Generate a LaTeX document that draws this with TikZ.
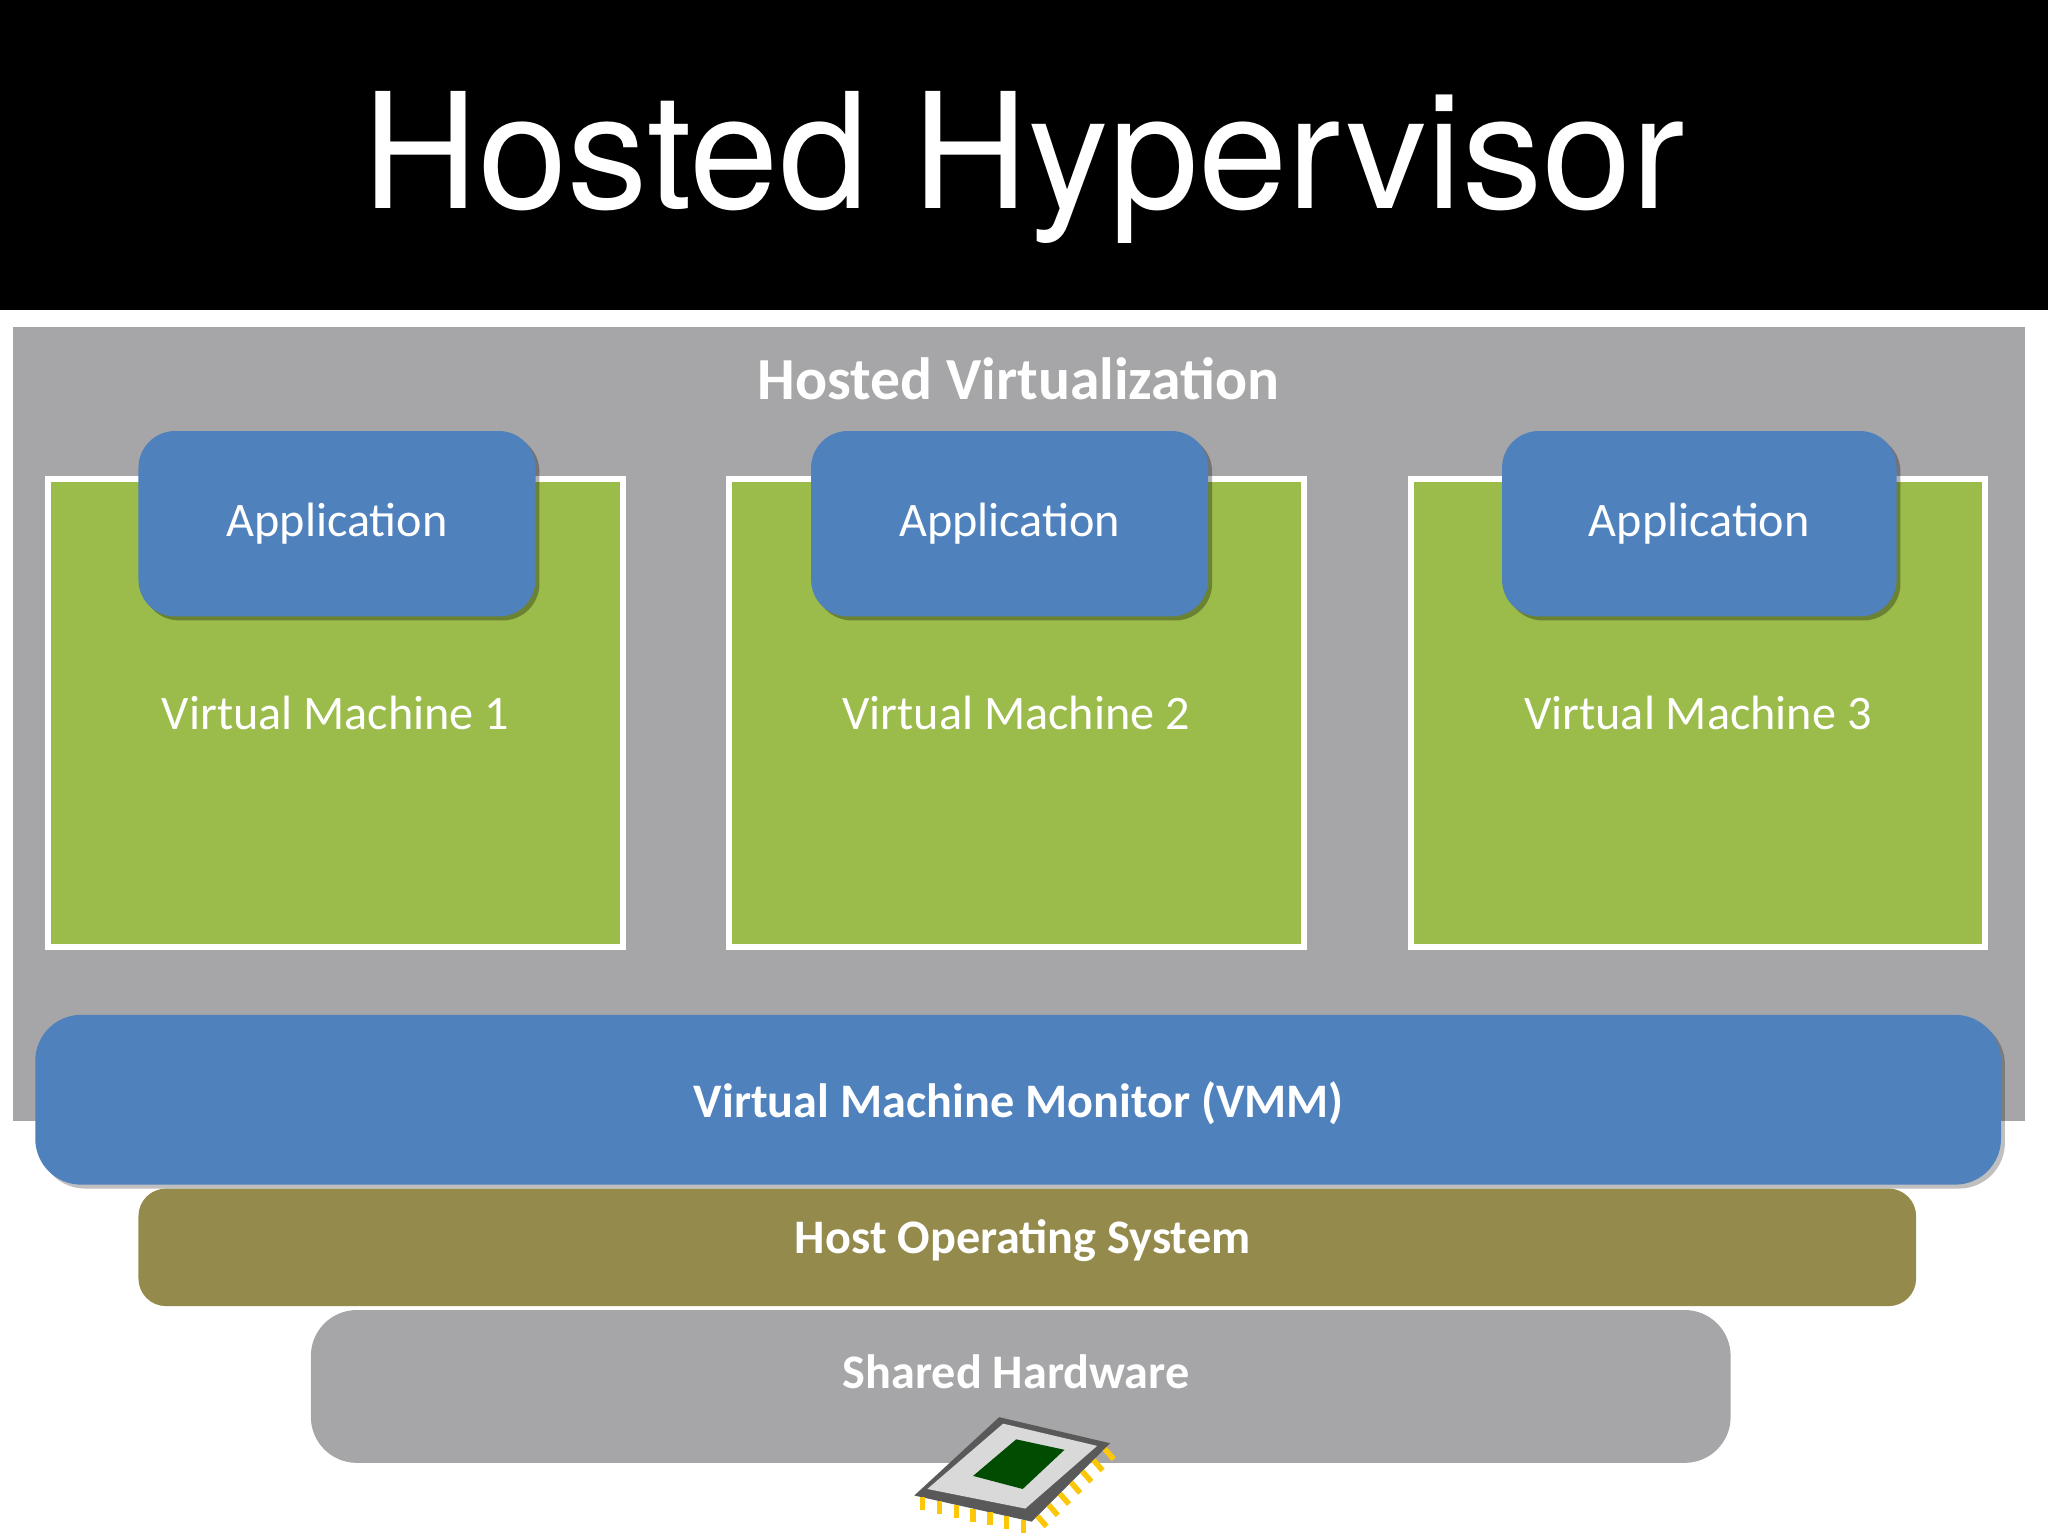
\documentclass[tikz,border=0pt]{standalone}
\usepackage{fontspec}
\usetikzlibrary{calc}
\setmainfont{Carlito}
\newfontfamily\titlefont{TeX Gyre Heros}
\begin{document}
\begin{tikzpicture}[x=1cm,y=-1cm,
  vm/.style={draw=white,line width=1.3pt,fill=vmgreen,anchor=north west},
  app/.style={fill=appblue,rounded corners=8pt,text=white,font=\fontsize{10.5}{13}\selectfont},
  lbl/.style={text=white,font=\fontsize{10.5}{13}\selectfont},
  blbl/.style={text=white,font=\bfseries\fontsize{10.5}{13}\selectfont}]
\definecolor{vmgreen}{HTML}{9BBB4A}
\definecolor{appblue}{HTML}{4F81BD}
\definecolor{panel}{HTML}{A6A6A8}
\definecolor{hostos}{HTML}{938A4C}
\useasboundingbox (0,0) rectangle (15.68,11.76);
\fill[black] (0,0) rectangle (15.68,2.37);
\node[text=white,font=\titlefont\fontsize{35}{38}\selectfont] (title) at (7.84,1.28) {Hosted Hypervisor};
\fill[panel] (0.10,2.50) rectangle (15.50,8.58);
\node[text=white,font=\bfseries\fontsize{13}{15}\selectfont] (hv) at (7.8,2.90) {Hosted Virtualization};
% VMs
\draw[vm] (0.37,3.67) rectangle (4.77,7.25);
\draw[vm] (5.58,3.67) rectangle (9.98,7.25);
\draw[vm] (10.80,3.67) rectangle (15.20,7.25);
\node[lbl] (vm1) at (2.57,5.46) {Virtual Machine 1};
\node[lbl] (vm2) at (7.78,5.46) {Virtual Machine 2};
\node[lbl] (vm3) at (13.00,5.46) {Virtual Machine 3};
% Apps
\fill[black,opacity=0.3,rounded corners=8pt] (1.09,3.33) rectangle (4.13,4.75);
\fill[black,opacity=0.3,rounded corners=8pt] (6.24,3.33) rectangle (9.28,4.75);
\fill[black,opacity=0.3,rounded corners=8pt] (11.53,3.33) rectangle (14.55,4.75);
\node[app,minimum width=3.04cm,minimum height=1.42cm] (a1) at (2.58,4.01) {Application};
\node[app,minimum width=3.04cm,minimum height=1.42cm] (a2) at (7.73,4.01) {Application};
\node[app,minimum width=3.02cm,minimum height=1.42cm] (a3) at (13.01,4.01) {Application};
% layers
\fill[black,opacity=0.25,rounded corners=10pt] (0.30,7.80) rectangle (15.35,9.10);
\fill[appblue,rounded corners=10pt] (0.27,7.77) rectangle (15.32,9.07);
\node[blbl] (vmm) at (7.8,8.45) {Virtual Machine Monitor (VMM)};
\fill[hostos,rounded corners=6pt] (1.06,9.10) rectangle (14.67,10.00);
\node[blbl] (os) at (7.83,9.50) {Host Operating System};
\fill[panel,rounded corners=10pt] (2.38,10.03) rectangle (13.25,11.20);
\node[blbl] (hw) at (7.78,10.50) {Shared Hardware};
% chip
\fill[gray!70!black] (7.0,11.45) -- (7.65,10.85) -- (8.5,11.05) -- (7.9,11.65) -- cycle;
\fill[gray!30] (7.1,11.40) -- (7.68,10.90) -- (8.4,11.07) -- (7.85,11.55) -- cycle;
\fill[green!30!black] (7.45,11.30) -- (7.78,11.02) -- (8.15,11.10) -- (7.83,11.40) -- cycle;
\foreach \i in {0,...,6}{
  \draw[yellow!60!orange,line width=1.2pt] ($(7.9,11.65)!{(\i+0.5)/7}!(8.5,11.05)$) -- ++(0.07,0.08);
  \draw[yellow!60!orange,line width=1.2pt] ($(7.0,11.45)!{(\i+0.5)/7}!(7.9,11.65)$) -- ++(0.0,0.1);
}
\end{tikzpicture}
\end{document}
